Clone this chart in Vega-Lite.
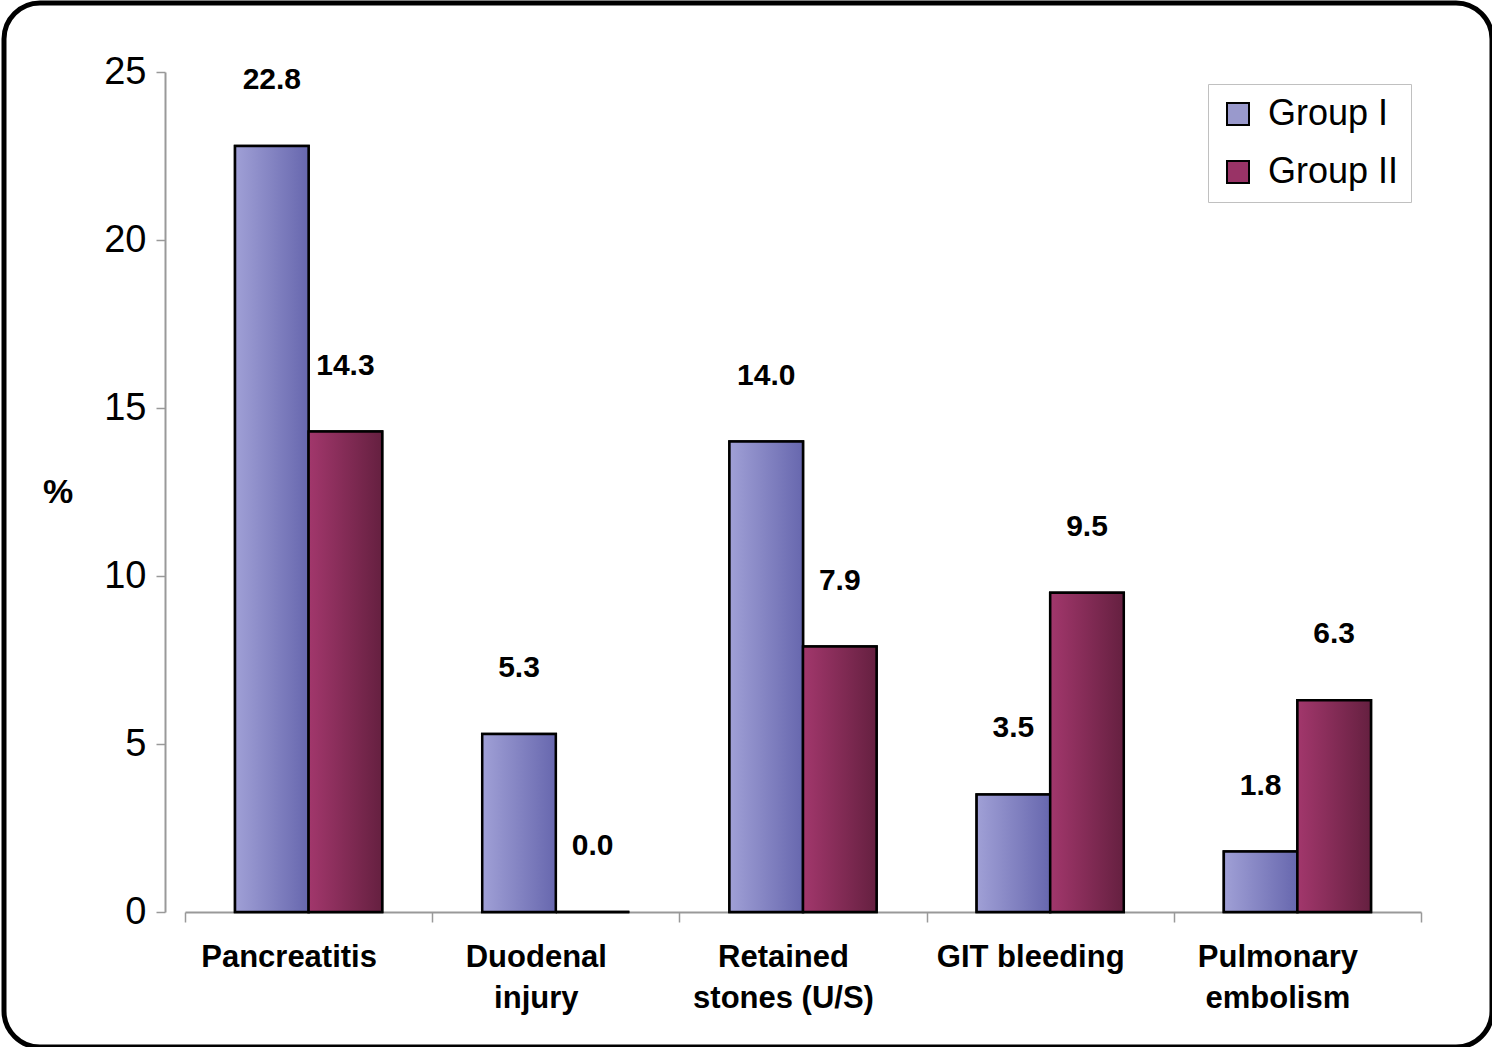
{
  "$schema": "https://vega.github.io/schema/vega-lite/v6.json",
  "width": 1488,
  "height": 1044,
  "autosize": {"type": "none"},
  "padding": {"left": 4, "top": 3, "right": 0, "bottom": 0},
  "background": "white",
  "config": {
    "font": "Liberation Sans",
    "view": {"stroke": "#000", "strokeWidth": 5, "cornerRadius": 36, "fill": "white"}
  },
  "data": {
    "values": [
      {"complication": "Pancreatitis", "group": "Group I", "percent": 22.8},
      {"complication": "Pancreatitis", "group": "Group II", "percent": 14.3},
      {"complication": "Duodenal injury", "group": "Group I", "percent": 5.3},
      {"complication": "Duodenal injury", "group": "Group II", "percent": 0.0},
      {"complication": "Retained stones (U/S)", "group": "Group I", "percent": 14.0},
      {"complication": "Retained stones (U/S)", "group": "Group II", "percent": 7.9},
      {"complication": "GIT bleeding", "group": "Group I", "percent": 3.5},
      {"complication": "GIT bleeding", "group": "Group II", "percent": 9.5},
      {"complication": "Pulmonary embolism", "group": "Group I", "percent": 1.8},
      {"complication": "Pulmonary embolism", "group": "Group II", "percent": 6.3}
    ]
  },
  "encoding": {
    "x": {
      "field": "complication",
      "type": "nominal",
      "sort": null,
      "scale": {"range": [181, 1417], "paddingInner": 0, "paddingOuter": 0},
      "axis": {
        "title": null,
        "orient": "bottom",
        "offset": -135,
        "domainColor": "#999",
        "domainWidth": 2,
        "tickColor": "#999",
        "tickWidth": 1.5,
        "tickSize": 10,
        "tickBand": "extent",
        "labelOffset": -20,
        "labelAngle": 0,
        "labelFontSize": 31,
        "labelFontWeight": "bold",
        "labelColor": "#000",
        "labelPadding": 20,
        "labelBaseline": "top",
        "labelLineHeight": 41,
        "labelLimit": 500,
        "labelExpr": "datum.label == 'Retained stones (U/S)' ? ['Retained', 'stones (U/S)'] : datum.label == 'GIT bleeding' ? datum.label : split(datum.label, ' ')"
      }
    },
    "xOffset": {
      "field": "group",
      "type": "nominal",
      "scale": {"paddingInner": 0, "paddingOuter": 0.68}
    },
    "y": {
      "field": "percent",
      "type": "quantitative",
      "scale": {"domain": [0, 25], "range": [909, 69], "nice": false, "zero": true},
      "axis": {
        "title": "%",
        "orient": "left",
        "offset": -161,
        "values": [0, 5, 10, 15, 20, 25],
        "grid": false,
        "domainColor": "#999",
        "domainWidth": 2,
        "tickColor": "#999",
        "tickWidth": 1.5,
        "tickSize": 9,
        "labelFontSize": 38,
        "labelColor": "#000",
        "labelPadding": 10,
        "titleAngle": 0,
        "titleFontSize": 34,
        "titleFontWeight": "bold",
        "titleColor": "#000",
        "titleBaseline": "middle",
        "titlePadding": 46
      }
    }
  },
  "layer": [
    {
      "mark": {"type": "bar", "stroke": "#000", "strokeWidth": 2.5},
      "encoding": {
        "color": {
          "field": "group",
          "type": "nominal",
          "scale": {"domain": ["Group I", "Group II"], "range": ["#9999cc", "#993366"]},
          "legend": {
            "title": null,
            "orient": "top-right",
            "offset": 81,
            "fillColor": "#fff",
            "strokeColor": "#c0c0c0",
            "padding": 12,
            "symbolType": "square",
            "symbolSize": 484,
            "symbolStrokeColor": "#000",
            "symbolStrokeWidth": 2,
            "symbolOpacity": 1,
            "labelFontSize": 36,
            "labelColor": "#000",
            "labelOffset": 12,
            "rowPadding": 22
          }
        }
      }
    },
    {
      "transform": [{"filter": "datum.group == 'Group I'"}],
      "mark": {
        "type": "bar",
        "stroke": "#000",
        "strokeWidth": 2.5,
        "fill": {
          "gradient": "linear",
          "x1": 0, "y1": 0, "x2": 1, "y2": 0,
          "stops": [
            {"offset": 0, "color": "#a0a0d6"},
            {"offset": 1, "color": "#6767ae"}
          ]
        }
      },
      "encoding": {}
    },
    {
      "transform": [{"filter": "datum.group == 'Group II'"}],
      "mark": {
        "type": "bar",
        "stroke": "#000",
        "strokeWidth": 2.5,
        "fill": {
          "gradient": "linear",
          "x1": 0, "y1": 0, "x2": 1, "y2": 0,
          "stops": [
            {"offset": 0, "color": "#a2376c"},
            {"offset": 1, "color": "#652040"}
          ]
        }
      },
      "encoding": {}
    },
    {
      "mark": {"type": "text", "dy": -66, "baseline": "middle", "fontSize": 30, "fontWeight": "bold", "color": "#000"},
      "encoding": {
        "text": {"field": "percent", "type": "quantitative", "format": ".1f"}
      }
    }
  ]
}
